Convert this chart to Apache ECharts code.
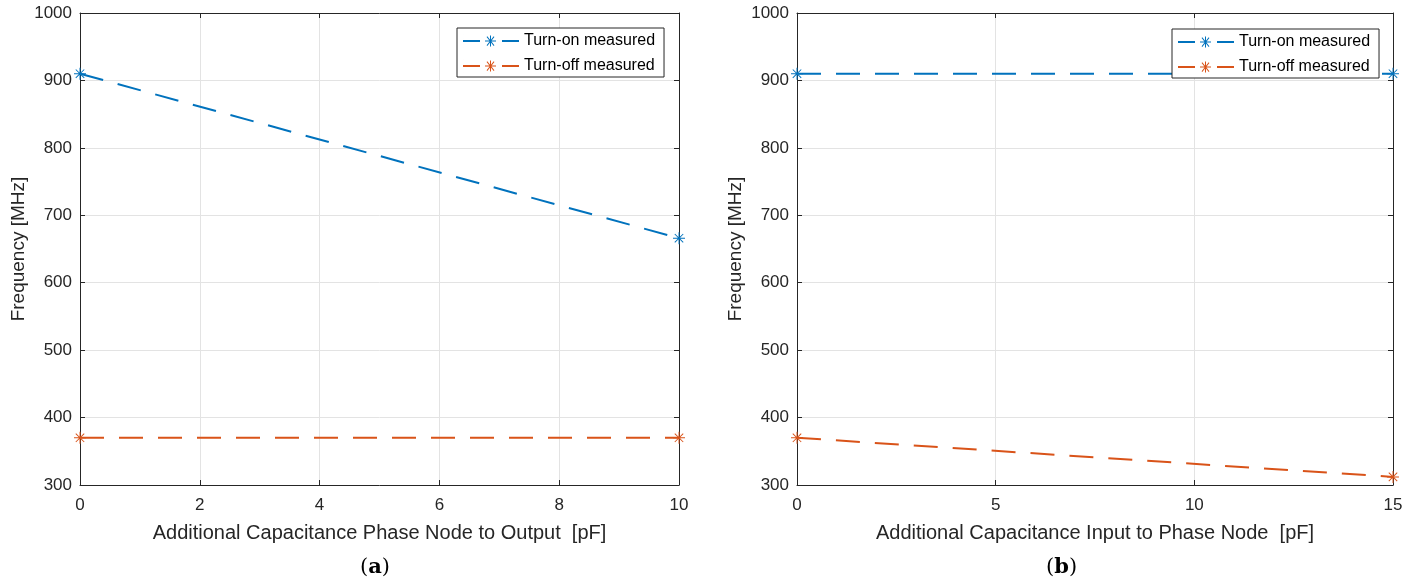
<!DOCTYPE html>
<html>
<head>
<meta charset="utf-8">
<script src="https://cdn.jsdelivr.net/npm/echarts@6/dist/echarts.min.js"></script>
<style>html,body{margin:0;padding:0;background:#fff}#c{width:1416px;height:584px}</style>
</head>
<body>
<div id="c"></div>
<script>
// Data
const xA = [0, 10];
const onA = [910, 666];
const offA = [370, 370];
const xB = [0, 15];
const onB = [910, 910];
const offB = [370, 312];
const seriesNames = ['Turn-on measured', 'Turn-off measured'];
const xNameA = 'Additional Capacitance Phase Node to Output  [pF]';
const xNameB = 'Additional Capacitance Input to Phase Node  [pF]';
const yName = 'Frequency [MHz]';
const captions = ['a', 'b'];

const BLUE = '#0072BD', ORANGE = '#D95319';
const FONT = 'Liberation Sans';
const AX = '#262626';
const ASTER = 'path://M0,9.2h20v1.6h-20z M9.2,0h1.6v20h-1.6z M2.4,3.5L3.5,2.4L17.6,16.5L16.5,17.6z M16.5,2.4L17.6,3.5L3.5,17.6L2.4,16.5z';
const LEGICON = 'path://M0,6h17v2h-17z M39,6h17v2h-17z M22,6.5h11v1h-11z M27,1.5h1v11h-1z M23.6,3L24.3,2.3L31.4,11.3L30.7,12z M30.7,2.3L31.4,3L24.3,12L23.6,11.3z M0,0h0.01v14h-0.01z';

function pairs(xs, ys){ return xs.map((x,i)=>[x, ys[i]]); }

const grids = [
  {left: 80, top: 13, width: 599, height: 472},
  {left: 797, top: 13, width: 596, height: 472}
];

const xAxis = [], yAxis = [], series = [];
const cfg = [
  {xs: xA, on: onA, off: offA, max: 10, interval: 2, name: xNameA},
  {xs: xB, on: onB, off: offB, max: 15, interval: 5, name: xNameB}
];
cfg.forEach((c, g) => {
  const common = {gridIndex: g, type: 'value', min: 0, max: c.max, interval: c.interval,
    axisLine: {show: true, onZero: false, lineStyle: {color: AX, width: 1}},
    axisTick: {show: true, inside: true, length: 5, lineStyle: {color: AX}}};
  xAxis.push(Object.assign({}, common, {position: 'bottom', name: c.name, nameLocation: 'middle', nameGap: 38,
    nameTextStyle: {fontFamily: FONT, fontSize: 20, color: '#262626'},
    axisLabel: {fontFamily: FONT, fontSize: 17, color: '#262626', margin: 12},
    splitLine: {show: true, lineStyle: {color: '#e3e3e3', width: 1}}}));
  xAxis.push(Object.assign({}, common, {position: 'top', axisLabel: {show: false}, splitLine: {show: false}}));
  const ycommon = {gridIndex: g, type: 'value', min: 300, max: 1000, interval: 100,
    axisLine: {show: true, onZero: false, lineStyle: {color: AX, width: 1}},
    axisTick: {show: true, inside: true, length: 5, lineStyle: {color: AX}}};
  yAxis.push(Object.assign({}, ycommon, {position: 'left', name: yName, nameLocation: 'middle', nameGap: 52,
    nameTextStyle: {fontFamily: FONT, fontSize: 19, color: '#262626'},
    axisLabel: {fontFamily: FONT, fontSize: 17, color: '#262626', margin: 8, formatter: v => String(v)},
    splitLine: {show: true, lineStyle: {color: '#e3e3e3', width: 1}}}));
  yAxis.push(Object.assign({}, ycommon, {position: 'right', axisLabel: {show: false}, splitLine: {show: false}}));
  [[c.on, BLUE, seriesNames[0]], [c.off, ORANGE, seriesNames[1]]].forEach(([ys, col, nm]) => {
    series.push({type: 'line', name: nm, xAxisIndex: g*2, yAxisIndex: g*2, data: pairs(c.xs, ys),
      symbol: ASTER, symbolSize: 12, showSymbol: true, clip: false,
      itemStyle: {color: col},
      lineStyle: {color: col, width: 2, type: [24, 15]},
      emphasis: {disabled: true}, z: 5});
  });
});

const legendBase = {orient: 'vertical', icon: LEGICON, itemWidth: 56, itemHeight: 14, itemGap: 9,
  padding: [5, 9, 3, 6], borderColor: '#262626', borderWidth: 1, backgroundColor: '#fff',
  selectedMode: false, textStyle: {fontFamily: FONT, fontSize: 16, color: '#000'},
  data: seriesNames, z: 10};

const chart = echarts.init(document.getElementById('c'), null, {renderer: 'canvas'});
chart.setOption({
  animation: false,
  backgroundColor: '#fff',
  grid: grids,
  xAxis, yAxis, series,
  legend: [
    Object.assign({}, legendBase, {left: 457, top: 28}),
    Object.assign({}, legendBase, {left: 1172, top: 29})
  ],
  graphic: captions.map((t, i) => ({
    type: 'text', left: i === 0 ? 360 : 1046, top: 557,
    style: {text: '({b|' + t + '})', font: '21px "DejaVu Serif", serif', fill: '#000',
      rich: {b: {fontWeight: 'bold', fontSize: 21, fontFamily: '"DejaVu Serif", serif'}}}
  }))
});
</script>
</body>
</html>
